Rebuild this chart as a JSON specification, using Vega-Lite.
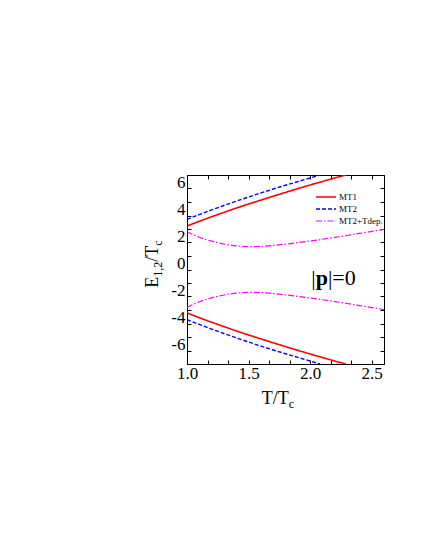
{
  "$schema": "https://vega.github.io/schema/vega-lite/v6.json",
  "autosize": {"type": "none"},
  "width": 197,
  "height": 189,
  "padding": {"left": 187, "top": 175, "right": 41, "bottom": 186},
  "background": "white",
  "config": {
    "view": {"stroke": "black", "strokeWidth": 1},
    "font": "Liberation Serif",
    "axis": {"grid": false, "title": null, "labelFont": "Liberation Serif"},
    "legend": {"labelFont": "Liberation Serif"}
  },
  "datasets": {
    "curves": [
      {"T": 1.0, "E": 3.22, "s": "MT1", "b": "MT1 upper"},
      {"T": 1.1, "E": 3.57, "s": "MT1", "b": "MT1 upper"},
      {"T": 1.2, "E": 3.91, "s": "MT1", "b": "MT1 upper"},
      {"T": 1.3, "E": 4.23, "s": "MT1", "b": "MT1 upper"},
      {"T": 1.4, "E": 4.55, "s": "MT1", "b": "MT1 upper"},
      {"T": 1.5, "E": 4.85, "s": "MT1", "b": "MT1 upper"},
      {"T": 1.6, "E": 5.14, "s": "MT1", "b": "MT1 upper"},
      {"T": 1.7, "E": 5.43, "s": "MT1", "b": "MT1 upper"},
      {"T": 1.8, "E": 5.71, "s": "MT1", "b": "MT1 upper"},
      {"T": 1.9, "E": 5.99, "s": "MT1", "b": "MT1 upper"},
      {"T": 2.0, "E": 6.26, "s": "MT1", "b": "MT1 upper"},
      {"T": 2.1, "E": 6.52, "s": "MT1", "b": "MT1 upper"},
      {"T": 2.2, "E": 6.78, "s": "MT1", "b": "MT1 upper"},
      {"T": 2.29, "E": 7.0, "s": "MT1", "b": "MT1 upper"},
      {"T": 1.0, "E": -3.22, "s": "MT1", "b": "MT1 lower"},
      {"T": 1.1, "E": -3.57, "s": "MT1", "b": "MT1 lower"},
      {"T": 1.2, "E": -3.91, "s": "MT1", "b": "MT1 lower"},
      {"T": 1.3, "E": -4.23, "s": "MT1", "b": "MT1 lower"},
      {"T": 1.4, "E": -4.55, "s": "MT1", "b": "MT1 lower"},
      {"T": 1.5, "E": -4.85, "s": "MT1", "b": "MT1 lower"},
      {"T": 1.6, "E": -5.14, "s": "MT1", "b": "MT1 lower"},
      {"T": 1.7, "E": -5.43, "s": "MT1", "b": "MT1 lower"},
      {"T": 1.8, "E": -5.71, "s": "MT1", "b": "MT1 lower"},
      {"T": 1.9, "E": -5.99, "s": "MT1", "b": "MT1 lower"},
      {"T": 2.0, "E": -6.26, "s": "MT1", "b": "MT1 lower"},
      {"T": 2.1, "E": -6.52, "s": "MT1", "b": "MT1 lower"},
      {"T": 2.2, "E": -6.78, "s": "MT1", "b": "MT1 lower"},
      {"T": 2.29, "E": -7.0, "s": "MT1", "b": "MT1 lower"},
      {"T": 1.0, "E": 3.72, "s": "MT2", "b": "MT2 upper"},
      {"T": 1.1, "E": 4.07, "s": "MT2", "b": "MT2 upper"},
      {"T": 1.2, "E": 4.41, "s": "MT2", "b": "MT2 upper"},
      {"T": 1.3, "E": 4.74, "s": "MT2", "b": "MT2 upper"},
      {"T": 1.4, "E": 5.06, "s": "MT2", "b": "MT2 upper"},
      {"T": 1.5, "E": 5.37, "s": "MT2", "b": "MT2 upper"},
      {"T": 1.6, "E": 5.67, "s": "MT2", "b": "MT2 upper"},
      {"T": 1.7, "E": 5.96, "s": "MT2", "b": "MT2 upper"},
      {"T": 1.8, "E": 6.24, "s": "MT2", "b": "MT2 upper"},
      {"T": 1.9, "E": 6.51, "s": "MT2", "b": "MT2 upper"},
      {"T": 2.0, "E": 6.78, "s": "MT2", "b": "MT2 upper"},
      {"T": 2.08, "E": 7.0, "s": "MT2", "b": "MT2 upper"},
      {"T": 1.0, "E": -3.72, "s": "MT2", "b": "MT2 lower"},
      {"T": 1.1, "E": -4.07, "s": "MT2", "b": "MT2 lower"},
      {"T": 1.2, "E": -4.41, "s": "MT2", "b": "MT2 lower"},
      {"T": 1.3, "E": -4.74, "s": "MT2", "b": "MT2 lower"},
      {"T": 1.4, "E": -5.06, "s": "MT2", "b": "MT2 lower"},
      {"T": 1.5, "E": -5.37, "s": "MT2", "b": "MT2 lower"},
      {"T": 1.6, "E": -5.67, "s": "MT2", "b": "MT2 lower"},
      {"T": 1.7, "E": -5.96, "s": "MT2", "b": "MT2 lower"},
      {"T": 1.8, "E": -6.24, "s": "MT2", "b": "MT2 lower"},
      {"T": 1.9, "E": -6.51, "s": "MT2", "b": "MT2 lower"},
      {"T": 2.0, "E": -6.78, "s": "MT2", "b": "MT2 lower"},
      {"T": 2.08, "E": -7.0, "s": "MT2", "b": "MT2 lower"},
      {"T": 1.0, "E": 2.8, "s": "MT2+Tdep.", "b": "Tdep upper"},
      {"T": 1.05, "E": 2.58, "s": "MT2+Tdep.", "b": "Tdep upper"},
      {"T": 1.1, "E": 2.39, "s": "MT2+Tdep.", "b": "Tdep upper"},
      {"T": 1.2, "E": 2.1, "s": "MT2+Tdep.", "b": "Tdep upper"},
      {"T": 1.3, "E": 1.89, "s": "MT2+Tdep.", "b": "Tdep upper"},
      {"T": 1.4, "E": 1.75, "s": "MT2+Tdep.", "b": "Tdep upper"},
      {"T": 1.5, "E": 1.69, "s": "MT2+Tdep.", "b": "Tdep upper"},
      {"T": 1.6, "E": 1.71, "s": "MT2+Tdep.", "b": "Tdep upper"},
      {"T": 1.7, "E": 1.78, "s": "MT2+Tdep.", "b": "Tdep upper"},
      {"T": 1.8, "E": 1.88, "s": "MT2+Tdep.", "b": "Tdep upper"},
      {"T": 1.9, "E": 1.99, "s": "MT2+Tdep.", "b": "Tdep upper"},
      {"T": 2.0, "E": 2.11, "s": "MT2+Tdep.", "b": "Tdep upper"},
      {"T": 2.1, "E": 2.24, "s": "MT2+Tdep.", "b": "Tdep upper"},
      {"T": 2.2, "E": 2.38, "s": "MT2+Tdep.", "b": "Tdep upper"},
      {"T": 2.3, "E": 2.52, "s": "MT2+Tdep.", "b": "Tdep upper"},
      {"T": 2.4, "E": 2.67, "s": "MT2+Tdep.", "b": "Tdep upper"},
      {"T": 2.5, "E": 2.82, "s": "MT2+Tdep.", "b": "Tdep upper"},
      {"T": 2.6, "E": 2.97, "s": "MT2+Tdep.", "b": "Tdep upper"},
      {"T": 1.0, "E": -2.8, "s": "MT2+Tdep.", "b": "Tdep lower"},
      {"T": 1.05, "E": -2.58, "s": "MT2+Tdep.", "b": "Tdep lower"},
      {"T": 1.1, "E": -2.39, "s": "MT2+Tdep.", "b": "Tdep lower"},
      {"T": 1.2, "E": -2.1, "s": "MT2+Tdep.", "b": "Tdep lower"},
      {"T": 1.3, "E": -1.89, "s": "MT2+Tdep.", "b": "Tdep lower"},
      {"T": 1.4, "E": -1.75, "s": "MT2+Tdep.", "b": "Tdep lower"},
      {"T": 1.5, "E": -1.69, "s": "MT2+Tdep.", "b": "Tdep lower"},
      {"T": 1.6, "E": -1.71, "s": "MT2+Tdep.", "b": "Tdep lower"},
      {"T": 1.7, "E": -1.78, "s": "MT2+Tdep.", "b": "Tdep lower"},
      {"T": 1.8, "E": -1.88, "s": "MT2+Tdep.", "b": "Tdep lower"},
      {"T": 1.9, "E": -1.99, "s": "MT2+Tdep.", "b": "Tdep lower"},
      {"T": 2.0, "E": -2.11, "s": "MT2+Tdep.", "b": "Tdep lower"},
      {"T": 2.1, "E": -2.24, "s": "MT2+Tdep.", "b": "Tdep lower"},
      {"T": 2.2, "E": -2.38, "s": "MT2+Tdep.", "b": "Tdep lower"},
      {"T": 2.3, "E": -2.52, "s": "MT2+Tdep.", "b": "Tdep lower"},
      {"T": 2.4, "E": -2.67, "s": "MT2+Tdep.", "b": "Tdep lower"},
      {"T": 2.5, "E": -2.82, "s": "MT2+Tdep.", "b": "Tdep lower"},
      {"T": 2.6, "E": -2.97, "s": "MT2+Tdep.", "b": "Tdep lower"}
    ]
  },
  "resolve": {"axis": {"x": "independent", "y": "independent"}},
  "layer": [
    {
      "data": {"name": "curves"},
      "mark": {"type": "line", "clip": true, "interpolate": "monotone"},
      "encoding": {
        "x": {
          "field": "T", "type": "quantitative",
          "scale": {"domain": [1, 2.6], "nice": false, "zero": false},
          "axis": {
            "orient": "bottom",
            "values": [1, 1.16667, 1.33333, 1.5, 1.66667, 1.83333, 2, 2.16667, 2.33333, 2.5],
            "labelExpr": "abs(datum.value * 2 - round(datum.value * 2)) < 0.01 ? format(datum.value, '.1f') : ''",
            "labelFont": "Liberation Serif", "labelFontSize": 17, "labelColor": "black",
            "labelFlush": false, "labelPadding": 5, "labelOverlap": false,
            "tickSize": -4, "tickColor": "black", "domainColor": "black", "grid": false
          }
        },
        "y": {
          "field": "E", "type": "quantitative",
          "scale": {"domain": [-7, 7], "nice": false, "zero": false},
          "axis": {
            "orient": "left",
            "values": [-6, -5, -4, -3, -2, -1, 0, 1, 2, 3, 4, 5, 6],
            "labelExpr": "datum.value % 2 == 0 ? '' + datum.value : ''",
            "labelFont": "Liberation Serif", "labelFontSize": 17, "labelColor": "black",
            "labelFlush": false, "labelPadding": 6, "labelOverlap": false, "labelOffset": -6,
            "tickSize": -4, "tickColor": "black", "domainColor": "black", "grid": false
          }
        },
        "color": {
          "field": "s", "type": "nominal",
          "scale": {"domain": ["MT1", "MT2", "MT2+Tdep."], "range": ["#ff0000", "#0000ff", "#ff00ff"]},
          "legend": {
            "orient": "none", "legendX": 133, "legendY": 16, "title": null,
            "symbolType": "M-2,0H2", "symbolSize": 100, "symbolStrokeWidth": 1.4,
            "labelFont": "Liberation Serif", "labelFontSize": 9, "labelColor": "black",
            "labelOffset": 7, "rowPadding": 1, "padding": 0
          }
        },
        "strokeDash": {
          "field": "s", "type": "nominal",
          "scale": {"domain": ["MT1", "MT2", "MT2+Tdep."], "range": [[1, 0], [4, 2], [6, 2, 1.5, 2]]},
          "legend": {
            "orient": "none", "legendX": 133, "legendY": 16, "title": null,
            "symbolType": "M-2,0H2", "symbolSize": 100, "symbolStrokeWidth": 1.4,
            "labelFont": "Liberation Serif", "labelFontSize": 9, "labelColor": "black",
            "labelOffset": 7, "rowPadding": 1, "padding": 0
          }
        },
        "strokeWidth": {
          "field": "s", "type": "ordinal",
          "scale": {"domain": ["MT1", "MT2", "MT2+Tdep."], "range": [1.6, 1.2, 1.2]},
          "legend": null
        },
        "detail": {"field": "b", "type": "nominal"}
      }
    },
    {
      "data": {"name": "curves"},
      "mark": {"type": "point", "opacity": 0},
      "encoding": {
        "x": {
          "field": "T", "type": "quantitative",
          "axis": {
            "orient": "top",
            "values": [1, 1.16667, 1.33333, 1.5, 1.66667, 1.83333, 2, 2.16667, 2.33333, 2.5],
            "labels": false, "tickSize": -4, "tickColor": "black", "domainColor": "black", "grid": false
          }
        },
        "y": {
          "field": "E", "type": "quantitative",
          "axis": {
            "orient": "right",
            "values": [-6, -5, -4, -3, -2, -1, 0, 1, 2, 3, 4, 5, 6],
            "labels": false, "tickSize": -4, "tickColor": "black", "domainColor": "black", "grid": false
          }
        }
      }
    },
    {
      "data": {"values": [{}]},
      "mark": {"type": "text", "font": "Liberation Serif", "fontSize": 22, "align": "left", "baseline": "alphabetic", "color": "black"},
      "encoding": {
        "x": {"datum": 2.01, "type": "quantitative", "axis": null},
        "y": {"datum": -1.15, "type": "quantitative", "axis": null},
        "text": {"value": "|"}
      }
    },
    {
      "data": {"values": [{}]},
      "mark": {"type": "text", "font": "Liberation Serif", "fontSize": 22, "fontWeight": "bold", "align": "left", "baseline": "alphabetic", "color": "black", "dx": 4.4},
      "encoding": {
        "x": {"datum": 2.01, "type": "quantitative", "axis": null},
        "y": {"datum": -1.15, "type": "quantitative", "axis": null},
        "text": {"value": "p"}
      }
    },
    {
      "data": {"values": [{}]},
      "mark": {"type": "text", "font": "Liberation Serif", "fontSize": 22, "align": "left", "baseline": "alphabetic", "color": "black", "dx": 16.6},
      "encoding": {
        "x": {"datum": 2.01, "type": "quantitative", "axis": null},
        "y": {"datum": -1.15, "type": "quantitative", "axis": null},
        "text": {"value": "|=0"}
      }
    },
    {
      "data": {"values": [{}]},
      "mark": {"type": "text", "font": "Liberation Serif", "fontSize": 18, "align": "left", "baseline": "alphabetic", "color": "black", "dx": -17.5, "dy": 40},
      "encoding": {
        "x": {"datum": 1.75, "type": "quantitative", "axis": null},
        "y": {"datum": -7, "type": "quantitative", "axis": null},
        "text": {"value": "T/T"}
      }
    },
    {
      "data": {"values": [{}]},
      "mark": {"type": "text", "font": "Liberation Serif", "fontSize": 12, "align": "left", "baseline": "alphabetic", "color": "black", "dx": 9.5, "dy": 44},
      "encoding": {
        "x": {"datum": 1.75, "type": "quantitative", "axis": null},
        "y": {"datum": -7, "type": "quantitative", "axis": null},
        "text": {"value": "c"}
      }
    },
    {
      "data": {"values": [{}]},
      "mark": {"type": "text", "font": "Liberation Serif", "fontSize": 18, "align": "left", "baseline": "alphabetic", "color": "black", "angle": 270, "dx": -18.3, "dy": -29},
      "encoding": {
        "x": {"datum": 1.0, "type": "quantitative", "axis": null},
        "y": {"datum": 0, "type": "quantitative", "axis": null},
        "text": {"value": "E"}
      }
    },
    {
      "data": {"values": [{}]},
      "mark": {"type": "text", "font": "Liberation Serif", "fontSize": 12, "align": "left", "baseline": "alphabetic", "color": "black", "angle": 270, "dx": -7.3, "dy": -25},
      "encoding": {
        "x": {"datum": 1.0, "type": "quantitative", "axis": null},
        "y": {"datum": 0, "type": "quantitative", "axis": null},
        "text": {"value": "1,2"}
      }
    },
    {
      "data": {"values": [{}]},
      "mark": {"type": "text", "font": "Liberation Serif", "fontSize": 18, "align": "left", "baseline": "alphabetic", "color": "black", "angle": 270, "dx": 7.7, "dy": -29},
      "encoding": {
        "x": {"datum": 1.0, "type": "quantitative", "axis": null},
        "y": {"datum": 0, "type": "quantitative", "axis": null},
        "text": {"value": "/T"}
      }
    },
    {
      "data": {"values": [{}]},
      "mark": {"type": "text", "font": "Liberation Serif", "fontSize": 12, "align": "left", "baseline": "alphabetic", "color": "black", "angle": 270, "dx": 23.7, "dy": -25},
      "encoding": {
        "x": {"datum": 1.0, "type": "quantitative", "axis": null},
        "y": {"datum": 0, "type": "quantitative", "axis": null},
        "text": {"value": "c"}
      }
    }
  ]
}
